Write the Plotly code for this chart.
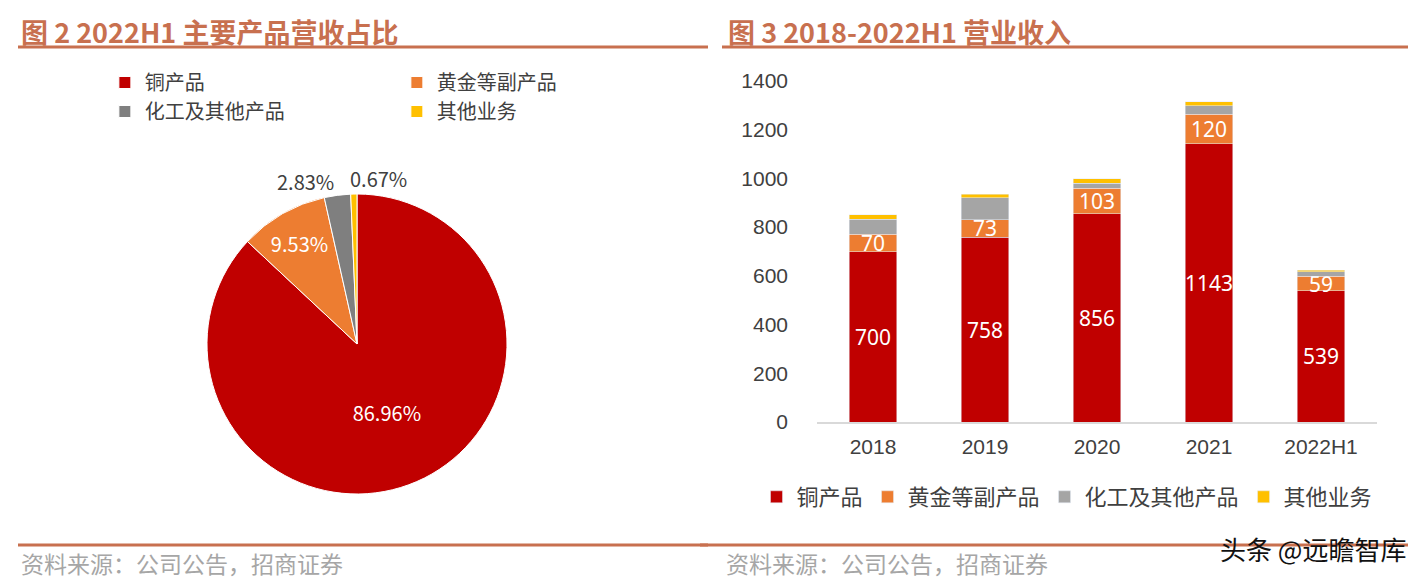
import plotly.graph_objects as go

# ---------------- data ----------------
pie_labels = ["铜产品", "黄金等副产品", "化工及其他产品", "其他业务"]
pie_values = [86.96, 9.53, 2.83, 0.67]
pie_colors = ["#C00000", "#ED7D31", "#7F7F7F", "#FFC000"]

years = ["2018", "2019", "2020", "2021", "2022H1"]
copper = [700, 758, 856, 1143, 539]
gold = [70, 73, 103, 120, 59]
chem = [62, 90, 21, 36, 18]
other = [18, 15, 19, 16, 8]
bar_names = ["铜产品", "黄金等副产品", "化工及其他产品", "其他业务"]
bar_colors = ["#C00000", "#ED7D31", "#A5A5A5", "#FFC000"]
y_ticks = [0, 200, 400, 600, 800, 1000, 1200, 1400]

title_left = "图 2 2022H1 主要产品营收占比"
title_right = "图 3 2018-2022H1 营业收入"
source_text = "资料来源：公司公告，招商证券"
watermark = "头条 @远瞻智库"

# ---------------- geometry helpers ----------------
OFF = 8  # page body margin
W, H = 1422 - OFF, 587 - OFF
ML, MR, MT, MB = 97, 6, 2, 2
PW, PH = W - ML - MR, H - MT - MB


def px(p):
    return (p - OFF - ML) / PW


def py(p):
    return (H - MB - (p - OFF)) / PH


CJK = "Noto Sans CJK SC"
TXT = "#404040"
ACCENT = "#C8704F"
NUM = "Liberation Sans Narrow, Arial Narrow, Liberation Sans"

fig = go.Figure()

fig.add_trace(go.Pie(
    labels=pie_labels, values=pie_values, sort=False, direction="clockwise",
    rotation=0,
    marker=dict(colors=pie_colors, line=dict(color="white", width=1)),
    texttemplate="%{value:.2f}%",
    textposition=["inside", "inside", "none", "none"],
    insidetextorientation="horizontal",
    insidetextfont=dict(color="white", size=20, family=CJK),
    domain=dict(x=[px(207), px(507)], y=[py(494), py(194)]),
    legend="legend", hoverinfo="label+percent",
))

series = [copper, gold, chem, other]
for i, (name, vals, col) in enumerate(zip(bar_names, series, bar_colors)):
    show_text = i < 2
    fig.add_trace(go.Bar(
        x=years, y=vals, name=name, marker_color=col,
        text=vals if show_text else None,
        texttemplate="%{y}" if show_text else None,
        textposition="inside" if show_text else "none",
        insidetextanchor="middle", textangle=0,
        textfont=dict(color="white", size=21, family="Noto Sans"),
        constraintext="none",
        legend="legend2",
        xaxis="x", yaxis="y",
    ))

fig.update_layout(
    width=W, height=H,
    margin=dict(l=ML, r=MR, t=MT, b=MB, autoexpand=False),
    paper_bgcolor="white", plot_bgcolor="white",
    barmode="stack", bargap=0.58,
    uniformtext=dict(minsize=19, mode="show"),
    font=dict(family=CJK, color=TXT),
    xaxis=dict(
        domain=[px(817), px(1377)], anchor="y",
        showline=True, linecolor="#D9D9D9", linewidth=2,
        showgrid=False, zeroline=False, ticks="",
        tickfont=dict(family=NUM, size=21, color=TXT),
        ticklabelstandoff=5,
    ),
    yaxis=dict(
        domain=[py(422), py(81)], anchor="x", range=[0, 1400],
        tickvals=y_ticks, showgrid=False, zeroline=False, showline=False,
        ticks="", tickfont=dict(family=NUM, size=21, color=TXT),
        ticklabelstandoff=28,
    ),
    legend=dict(
        orientation="h", x=-0.0001, xanchor="left", y=py(63), yanchor="top",
        entrywidth=247, entrywidthmode="pixels",
        font=dict(family=CJK, size=20, color=TXT),
        bgcolor="rgba(0,0,0,0)", itemclick=False, itemdoubleclick=False,
    ),
    legend2=dict(
        orientation="h", x=px(1067), xanchor="center", y=py(476), yanchor="top",
        font=dict(family=CJK, size=22, color=TXT),
        bgcolor="rgba(0,0,0,0)", traceorder="normal",
        itemclick=False, itemdoubleclick=False,
    ),
    showlegend=True,
)

ann = [
    dict(text=f"<b>{title_left}</b>", x=px(19), y=py(32), xanchor="left", yanchor="middle",
         font=dict(family=CJK, size=27, color=ACCENT)),
    dict(text=f"<b>{title_right}</b>", x=px(726), y=py(32), xanchor="left", yanchor="middle",
         font=dict(family=CJK, size=27, color=ACCENT)),
    dict(text=source_text, x=px(19), y=py(563), xanchor="left", yanchor="middle",
         font=dict(family=CJK, size=23, color="#A6A6A6")),
    dict(text=source_text, x=px(724), y=py(563), xanchor="left", yanchor="middle",
         font=dict(family=CJK, size=23, color="#A6A6A6")),
    dict(text=watermark, x=px(1408), y=py(548), xanchor="right", yanchor="middle",
         font=dict(family=CJK, size=26, color="#111111")),
    # labels of the two thin pie slices, placed above the pie
    dict(text=f"{pie_values[2]:.2f}%", x=px(305), y=py(181), xanchor="center", yanchor="middle",
         font=dict(family=CJK, size=20, color=TXT)),
    dict(text=f"{pie_values[3]:.2f}%", x=px(378), y=py(178), xanchor="center", yanchor="middle",
         font=dict(family=CJK, size=20, color=TXT)),
]
for a in ann:
    a.update(xref="paper", yref="paper", showarrow=False)
fig.update_layout(annotations=ann)

line_col = "#C8704F"
shapes = [
    dict(type="line", x0=px(18), x1=px(708), y0=py(47), y1=py(47)),
    dict(type="line", x0=px(722), x1=px(1408), y0=py(47), y1=py(47)),
    dict(type="line", x0=px(18), x1=px(708), y0=py(545), y1=py(545)),
    dict(type="line", x0=px(700), x1=px(1408), y0=py(545), y1=py(545)),
]
for s in shapes:
    s.update(xref="paper", yref="paper", line=dict(color=line_col, width=3), layer="below")
fig.update_layout(shapes=shapes)

fig.write_html("out.html")
